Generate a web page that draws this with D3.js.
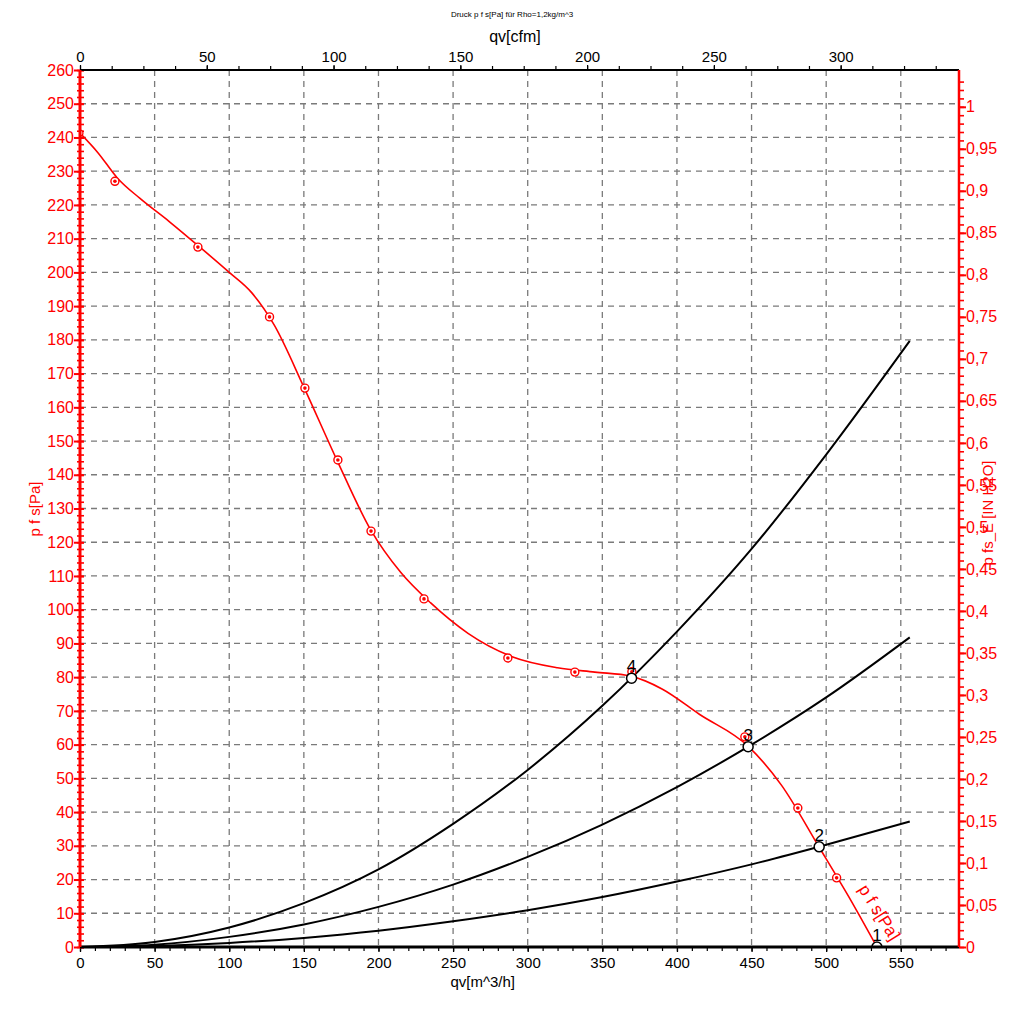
<!DOCTYPE html>
<html><head><meta charset="utf-8">
<script src="https://cdn.jsdelivr.net/npm/d3@7"></script>
<style>
html,body{margin:0;padding:0;background:#fff;}
svg{display:block;font-family:"Liberation Sans",Arial,sans-serif;}
</style></head>
<body>
<svg id="chart" width="1024" height="1012"></svg>
<script>
// ---- data ----
const fanCurveQv = [0,12,25,40,60,80,100,115,130,150,172,195,215,235,260,290,320,345,369,390,415,448,470,495,515,534];
const fanCurvePa = [241.3,235.5,228,222,215,207.6,200,194,184.5,166,144.5,123.5,111,102,93,86,82.8,81.5,80.3,76.5,69,59.4,48,29.8,15,0];
const measuredQv = [23.4,79,127,150.7,172.8,195,230.5,286.7,331.6,369.8,445.5,481,507];
const measuredPa = [227,207.5,186.8,165.7,144.4,123.3,103.2,85.7,81.5,81.6,62.3,41.2,20.5];
const systemQv = [0,50,100,150,200,250,300,350,400,450,500,556];
const system4Pa = [0,1.5,5.8,13,23,36.5,52.5,71.5,93.5,118,146,179.7];
const system3Pa = [0,0.7,3,6.7,11.9,18.5,26.7,36.3,47.4,60,74,91.8];
const system2Pa = [0,0.3,1.2,2.7,4.8,7.6,10.9,14.8,19.4,24.5,30.3,37.2];
const opLabels = ["1","2","3","4"];
const opQv = [534,495.3,447.7,369.6];
const opPa = [0,29.7,59.4,79.7];
const xTicks = [0,50,100,150,200,250,300,350,400,450,500,550];
const cfmTicks = [0,50,100,150,200,250,300];
const paTicks = d3.range(0,261,10);
const inTicks = d3.range(0,21).map(i=>i*0.05);
const titleText = "Druck p f s[Pa] für Rho=1,2kg/m^3";

// ---- scales ----
const L=80,R=959,T=70,B=947;
const qvMax=589;
const x=d3.scaleLinear().domain([0,qvMax]).range([L,R]);
const xc=d3.scaleLinear().domain([0,qvMax/1.69901]).range([L,R]);
const y=d3.scaleLinear().domain([0,260]).range([B,T]);
const yi=d3.scaleLinear().domain([0,260/249.089]).range([B,T]);
const red="#ff0000";

const svg=d3.select("#chart");
svg.append("defs").append("clipPath").attr("id","plot").append("rect")
  .attr("x",L).attr("y",T).attr("width",R-L).attr("height",B-T);

// title
svg.append("text").attr("x",512).attr("y",17).attr("text-anchor","middle")
  .attr("font-size",8).attr("fill","#000").text(titleText);
svg.append("text").attr("x",515).attr("y",42).attr("text-anchor","middle")
  .attr("font-size",16).attr("fill","#000").text("qv[cfm]");

// grid
const grid=svg.append("g").attr("stroke","#7a7a7a").attr("stroke-width",1.3).attr("stroke-dasharray","6,5");
paTicks.filter(v=>v>0&&v<260).forEach(v=>{
  grid.append("line").attr("x1",L).attr("x2",R).attr("y1",y(v)).attr("y2",y(v));
});
xTicks.filter(v=>v>0).forEach(v=>{
  grid.append("line").attr("x1",x(v)).attr("x2",x(v)).attr("y1",T).attr("y2",B);
});

// axes: bottom
const bottom=d3.axisBottom(x).tickValues(xTicks).tickSize(5).tickFormat(d3.format("d"));
const gb=svg.append("g").attr("transform",`translate(0,${B})`).call(bottom);
gb.select(".domain").remove();
gb.selectAll(".tick line").attr("stroke","#000").attr("stroke-width",1.3);
gb.selectAll("text").attr("font-size",15).attr("fill","#000").attr("dy","0").attr("y",21);
const gbm=svg.append("g").attr("transform",`translate(0,${B})`)
  .call(d3.axisBottom(x).tickValues(d3.range(0,qvMax,10)).tickSize(4).tickFormat(""));
gbm.select(".domain").remove();
gbm.selectAll(".tick line").attr("stroke","#000").attr("stroke-width",1.2);
svg.append("text").attr("x",515).attr("y",987).attr("text-anchor","end")
  .attr("font-size",15).attr("fill","#000").text("qv[m^3/h]");

// axes: top (cfm)
const gt=svg.append("g").attr("transform",`translate(0,${T})`)
  .call(d3.axisTop(xc).tickValues(cfmTicks).tickSize(5).tickFormat(d3.format("d")));
gt.select(".domain").remove();
gt.selectAll(".tick line").attr("stroke","#000").attr("stroke-width",1.2);
gt.selectAll("text").attr("font-size",15).attr("fill","#000").attr("dy","0").attr("y",-8);
const gtm=svg.append("g").attr("transform",`translate(0,${T})`)
  .call(d3.axisTop(xc).tickValues(d3.range(0,346,12.5)).tickSize(4).tickFormat(""));
gtm.select(".domain").remove();
gtm.selectAll(".tick line").attr("stroke","#000").attr("stroke-width",1.2);

// axes: left (Pa)
const gl=svg.append("g").attr("transform",`translate(${L},0)`)
  .call(d3.axisLeft(y).tickValues(paTicks).tickSize(6).tickFormat(d3.format("d")));
gl.select(".domain").remove();
gl.selectAll(".tick line").attr("stroke",red).attr("stroke-width",2).attr("x2",-6).attr("x1",4);
gl.selectAll("text").attr("font-size",16).attr("fill",red).attr("x",-6);
const glm=svg.append("g").attr("transform",`translate(${L},0)`)
  .call(d3.axisLeft(y).tickValues(d3.range(0,261,2)).tickSize(3).tickFormat(""));
glm.select(".domain").remove();
glm.selectAll(".tick line").attr("stroke",red).attr("stroke-width",1.6).attr("x2",-3).attr("x1",4);
svg.append("text").attr("transform","translate(40,509) rotate(-90)").attr("text-anchor","middle")
  .attr("font-size",15).attr("fill",red).text("p f s[Pa]");

// axes: right (inH2O)
const fmtIn=v=>{const s=(+v.toFixed(2)).toString();return s.replace(".",",");};
const gr=svg.append("g").attr("transform",`translate(${R},0)`)
  .call(d3.axisRight(yi).tickValues(inTicks).tickSize(7).tickFormat(fmtIn));
gr.select(".domain").remove();
gr.selectAll(".tick line").attr("stroke",red).attr("stroke-width",2);
gr.selectAll("text").attr("font-size",16).attr("fill",red).attr("x",7);
const grm=svg.append("g").attr("transform",`translate(${R},0)`)
  .call(d3.axisRight(yi).tickValues(d3.range(0,104).map(i=>i*0.01)).tickSize(5).tickFormat(""));
grm.select(".domain").remove();
grm.selectAll(".tick line").attr("stroke",red).attr("stroke-width",1.6);
svg.append("text").attr("transform","translate(993,513) rotate(-90)").attr("text-anchor","middle")
  .attr("font-size",15).attr("fill",red).text("p fs_E [IN H2O]");

// system curves
const plot=svg.append("g").attr("clip-path","url(#plot)");
const sysLine=d3.line().x((d,i)=>x(systemQv[i])).y(d=>y(d)).curve(d3.curveMonotoneX);
[system2Pa,system3Pa,system4Pa].forEach(arr=>{
  plot.append("path").attr("d",sysLine(arr)).attr("fill","none").attr("stroke","#000").attr("stroke-width",2);
});

// fan curve
const fanLine=d3.line().x((d,i)=>x(fanCurveQv[i])).y(d=>y(d)).curve(d3.curveMonotoneX);
plot.append("path").attr("d",fanLine(fanCurvePa)).attr("fill","none").attr("stroke",red).attr("stroke-width",1.6);
plot.append("circle").attr("cx",x(fanCurveQv[0])).attr("cy",y(fanCurvePa[0])).attr("r",3)
  .attr("fill","#fff").attr("stroke",red).attr("stroke-width",1.2);

// measured markers
measuredPa.forEach((v,i)=>{
  plot.append("circle").attr("cx",x(measuredQv[i])).attr("cy",y(v)).attr("r",4)
    .attr("fill","#fff").attr("stroke",red).attr("stroke-width",1.4);
  plot.append("circle").attr("cx",x(measuredQv[i])).attr("cy",y(v)).attr("r",1.8).attr("fill",red);
});

// operating points
opPa.forEach((v,i)=>{
  plot.append("circle").attr("cx",x(opQv[i])).attr("cy",y(v)).attr("r",5)
    .attr("fill","#fff").attr("stroke","#000").attr("stroke-width",1.5);
  svg.append("text").attr("x",x(opQv[i])).attr("y",y(v)-6).attr("text-anchor","middle")
    .attr("font-size",17).attr("fill","#000").text(opLabels[i]);
});

// axis lines
svg.append("line").attr("x1",L).attr("x2",R).attr("y1",T).attr("y2",T).attr("stroke","#000").attr("stroke-width",2);
svg.append("line").attr("x1",L).attr("x2",R).attr("y1",B).attr("y2",B).attr("stroke","#000").attr("stroke-width",3);
svg.append("line").attr("x1",L).attr("x2",L).attr("y1",T).attr("y2",B).attr("stroke",red).attr("stroke-width",3);
svg.append("line").attr("x1",R).attr("x2",R).attr("y1",T).attr("y2",B).attr("stroke",red).attr("stroke-width",2.5);

// curve label
svg.append("text").attr("transform","translate(858,889) rotate(58)")
  .attr("font-size",17).attr("fill",red).text("p f s[Pa]");
</script>
</body></html>
